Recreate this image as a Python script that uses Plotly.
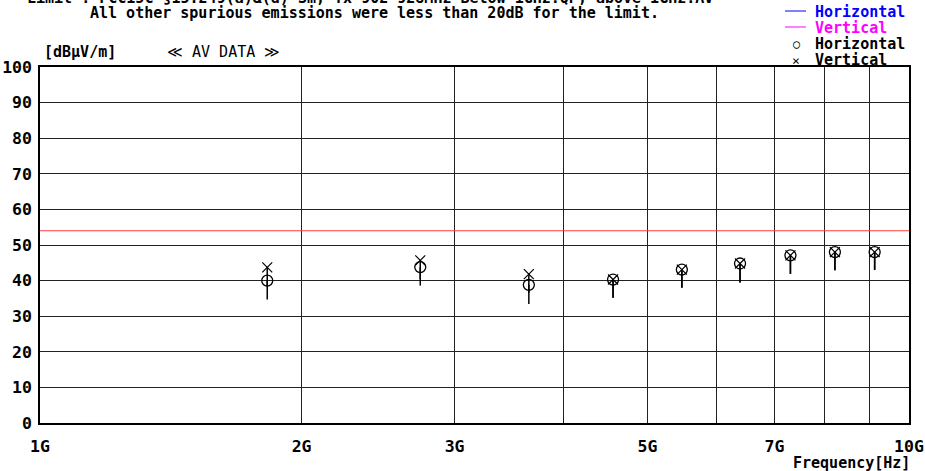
import plotly.graph_objects as go

# Harmonic measurement points (Hz) and levels (dBuV/m)
freq_hz = [1.826e9, 2.739e9, 3.652e9, 4.565e9, 5.478e9, 6.391e9, 7.304e9, 8.217e9, 9.130e9]
h_level = [40.0, 43.8, 38.8, 40.3, 43.1, 44.8, 47.1, 48.0, 48.0]
v_level = [43.7, 45.7, 41.8, 40.3, 43.1, 44.8, 47.1, 48.0, 48.0]
# lower end of the stem drawn under each point
h_low = [34.7, 38.6, 33.4, 35.2, 38.0, 39.5, 41.9, 42.9, 43.0]
v_low = [38.4, 40.4, 36.5, 35.2, 38.0, 39.5, 41.9, 42.9, 43.0]

limit_dbuv = 54.0
x_span = [1e9, 1e10]

x_tickvals = [1e9, 2e9, 3e9, 4e9, 5e9, 6e9, 7e9, 8e9, 9e9, 1e10]
x_ticktext = ["1G", "2G", "3G", "", "5G", "", "7G", "", "", "10G"]
y_tickvals = [0, 10, 20, 30, 40, 50, 60, 70, 80, 90, 100]

MONO = "DejaVu Sans Mono"

fig = go.Figure()

# limit line
fig.add_trace(go.Scatter(
    x=x_span, y=[limit_dbuv, limit_dbuv], mode="lines",
    line=dict(color="#ff3c3c", width=1.2), hoverinfo="skip", showlegend=False))

# Vertical polarisation (x) with stems
fig.add_trace(go.Scatter(
    x=freq_hz, y=v_level, mode="markers",
    marker=dict(symbol="x-thin-open", size=10, color="black",
                line=dict(color="black", width=1.2)),
    error_y=dict(type="data", symmetric=False,
                 array=[0] * len(v_level),
                 arrayminus=[a - b for a, b in zip(v_level, v_low)],
                 width=0, thickness=1.5, color="black"),
    showlegend=False))

# Horizontal polarisation (o) with stems
fig.add_trace(go.Scatter(
    x=freq_hz, y=h_level, mode="markers",
    marker=dict(symbol="circle-open", size=11, color="black",
                line=dict(color="black", width=1.3)),
    error_y=dict(type="data", symmetric=False,
                 array=[0] * len(h_level),
                 arrayminus=[a - b for a, b in zip(h_level, h_low)],
                 width=0, thickness=1.5, color="black"),
    showlegend=False))

L, R, T, B = 40, 16, 67, 48
W, H = 925, 471
pw, ph = W - L - R, H - T - B


def px(x):
    return (x - L) / pw


def py(y):
    return (H - B - y) / ph


ann = []


def text(s, x, y, anchor="center", size=15, color="black", bold=True):
    ann.append(dict(text=s, x=px(x), y=py(y), xref="paper", yref="paper",
                    xanchor=anchor, yanchor="middle", showarrow=False,
                    font=dict(family=MONO, size=size, color=color,
                              weight="bold" if bold else "normal")))


text("Limit : FCC15C §15.249(a)&(d) 3m, Tx 902-928MHz Below 1GHz:QP, above 1GHz:AV",
     370, -2)
text("All other spurious emissions were less than 20dB for the limit.", 374, 13)
text("[dBµV/m]", 42, 52, anchor="left")
text("≪ AV DATA ≫", 165, 52, anchor="left", bold=False)
text("Frequency[Hz]", 912, 463, anchor="right")

# legend block
text("Horizontal", 813, 12, anchor="left", color="#0000ff")
text("Vertical", 813, 28, anchor="left", color="#ff00ff")
text("○", 796, 44, size=12, bold=False)
text("Horizontal", 813, 44, anchor="left")
text("×", 796, 60, size=13, bold=False)
text("Vertical", 813, 60, anchor="left")

shapes = [
    dict(type="line", xref="paper", yref="paper", x0=px(785), x1=px(806),
         y0=py(11), y1=py(11), line=dict(color="#0000ff", width=1)),
    dict(type="line", xref="paper", yref="paper", x0=px(785), x1=px(806),
         y0=py(27), y1=py(27), line=dict(color="#ff00ff", width=1)),
]

tick_font = dict(family=MONO, size=16.5, color="black", weight="bold")

fig.update_layout(
    width=W, height=H,
    margin=dict(l=L, r=R, t=T, b=B, pad=0, autoexpand=False),
    paper_bgcolor="white", plot_bgcolor="white",
    annotations=ann, shapes=shapes, showlegend=False,
    xaxis=dict(type="log", range=[9, 10], tickvals=x_tickvals, ticktext=x_ticktext,
               showgrid=True, gridcolor="#222", gridwidth=1,
               showline=True, linecolor="black", linewidth=1.5, mirror=True,
               ticks="", ticklabelstandoff=7, zeroline=False, automargin=False,
               ticklabeloverflow="allow", tickfont=tick_font),
    yaxis=dict(range=[0, 100], tickvals=y_tickvals,
               showgrid=True, gridcolor="#222", gridwidth=1,
               showline=True, linecolor="black", linewidth=1.5, mirror=True,
               ticks="", ticklabelstandoff=3, zeroline=False, automargin=False,
               ticklabeloverflow="allow", tickfont=tick_font),
)

fig.write_html("out.html")
